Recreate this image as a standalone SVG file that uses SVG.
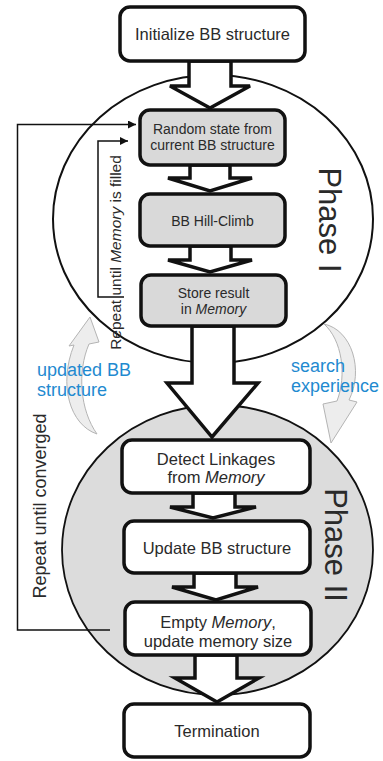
<svg xmlns="http://www.w3.org/2000/svg" width="383" height="761" viewBox="0 0 383 761">
<style>
.box{stroke:#111;stroke-width:3.5;}
.g{fill:#d9d9d9;}
.w{fill:#fff;}
.blk{fill:#fff;stroke:#111;stroke-width:3.5;stroke-linejoin:miter;}
.t{font-family:"Liberation Sans",Arial,sans-serif;fill:#2a2a2a;text-anchor:middle;}
.ln{fill:none;stroke:#111;stroke-width:1.5;}
.blue{font-family:"Liberation Sans",Arial,sans-serif;fill:#1f8ad0;font-size:18px;}
.curv{fill:#ededed;stroke:#b4b4b4;stroke-width:1;}
</style>
<defs>
<marker id="ah" viewBox="0 0 10 10" refX="10" refY="5" markerWidth="10" markerHeight="8" markerUnits="userSpaceOnUse" orient="auto">
<path d="M0,0 L10,5 L0,10 Z" fill="#111"/>
</marker>
</defs>

<g id="phase1">
<ellipse cx="213" cy="219" rx="160" ry="144" fill="#fff" stroke="#111" stroke-width="2"/>
<text class="t" font-size="31" transform="translate(319,220) rotate(90)" fill="#222">Phase I</text>
</g>
<g id="phase2">
<ellipse cx="217.5" cy="550" rx="155.5" ry="145" fill="#dcdcdc" stroke="#111" stroke-width="1.8"/>
<text class="t" font-size="31" transform="translate(325,545) rotate(90)" fill="#222">Phase II</text>
</g>

<g id="curved-arrows">
<path class="curv" d="M97,434 C70,425 58,385 74,345 L69,346 L90,317 L99,342 L89,344 C77,372 80,410 97,434 Z"/>
<path class="curv" d="M324,324 C352,330 364,370 349,400 L357,402 L331,443 L323,404 L337,401 C347,375 342,340 324,324 Z"/>
</g>

<g id="connectors">
<polygon class="blk" points="189,61 189,86 170,86 210,108 250,86 231,86 231,61"/>
<polygon class="blk" points="190,165 190,178 168,178 210,191 252,178 230,178 230,165"/>
<polygon class="blk" points="190,246 190,260 168,260 210,272 252,260 231,260 231,246"/>
<polygon class="blk" points="192,326 192,383 167,383 212,437 258,383 234,383 234,326"/>
<polygon class="blk" points="193,493 193,507 170,507 213,518 256,507 235,507 235,493"/>
<polygon class="blk" points="194,573 194,587 172,587 216,600 258,587 236,587 236,573"/>
<polygon class="blk" points="195,655 195,678 175,678 217,702 259,678 237,678 237,655"/>
<path class="ln" d="M110,630 H17.5 V124.5 H136" marker-end="url(#ah)"/>
<path class="ln" d="M124,297 H98 V141 H128" marker-end="url(#ah)"/>
</g>

<g id="box1"><rect class="box w" x="120" y="7" width="185" height="54" rx="10"/>
<text class="t" font-size="16.5" x="212.5" y="40">Initialize BB structure</text></g>
<g id="box2"><rect class="box g" x="140" y="110" width="145" height="55" rx="10"/>
<text class="t" font-size="14" x="212.5" y="134">Random state from</text>
<text class="t" font-size="14" x="212.5" y="150">current BB structure</text></g>
<g id="box3"><rect class="box g" x="140" y="194" width="145" height="52" rx="10"/>
<text class="t" font-size="14" x="212.5" y="226">BB Hill-Climb</text></g>
<g id="box4"><rect class="box g" x="141" y="275" width="145" height="51" rx="10"/>
<text class="t" font-size="14" x="213.5" y="298">Store result</text>
<text class="t" font-size="14" x="213.5" y="314">in <tspan font-style="italic">Memory</tspan></text></g>
<g id="box5"><rect class="box w" x="122" y="440" width="188" height="53" rx="10"/>
<text class="t" font-size="16.5" x="216" y="465">Detect Linkages</text>
<text class="t" font-size="16.5" x="216" y="483">from <tspan font-style="italic">Memory</tspan></text></g>
<g id="box6"><rect class="box w" x="124" y="521" width="186" height="52" rx="10"/>
<text class="t" font-size="16.5" x="217" y="554">Update BB structure</text></g>
<g id="box7"><rect class="box w" x="125" y="602" width="186" height="53" rx="10"/>
<text class="t" font-size="16.5" x="218" y="628">Empty <tspan font-style="italic">Memory</tspan>,</text>
<text class="t" font-size="16.5" x="218" y="647">update memory size</text></g>
<g id="box8"><rect class="box w" x="124" y="704" width="186" height="53" rx="10"/>
<text class="t" font-size="16.5" x="217" y="737">Termination</text></g>

<g id="labels">
<text class="t" font-size="15.5" transform="translate(121,252.5) rotate(-90)">Repeat until <tspan font-style="italic">Memory</tspan> is filled</text>
<text class="t" font-size="18" transform="translate(46,506) rotate(-90)">Repeat until converged</text>
<text class="blue" x="37" y="376">updated BB</text>
<text class="blue" x="37" y="396">structure</text>
<text class="blue" x="291" y="372">search</text>
<text class="blue" x="291" y="392">experience</text>
</g>
</svg>
